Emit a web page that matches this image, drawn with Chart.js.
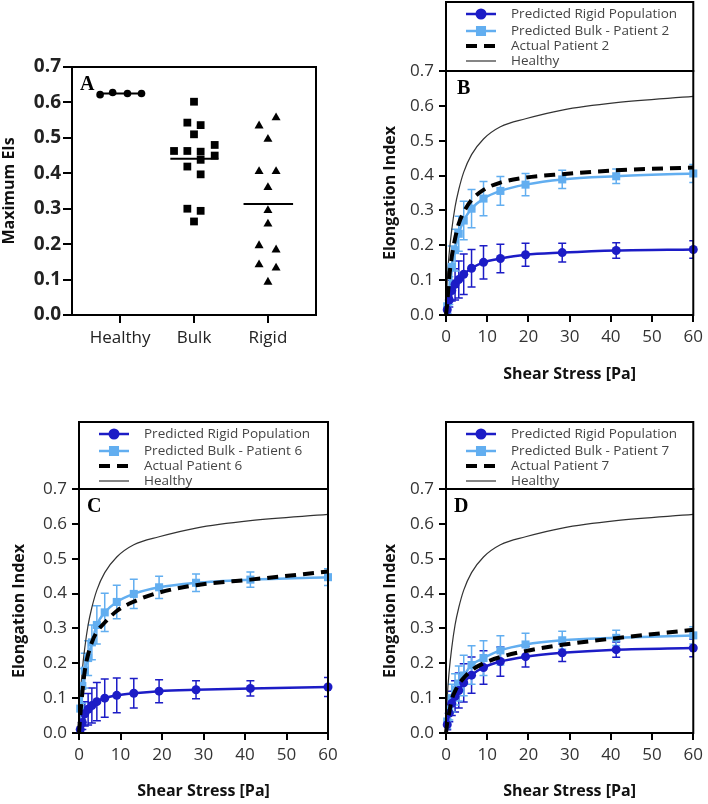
<!DOCTYPE html>
<html>
<head>
<meta charset="utf-8">
<title>Elongation index</title>
<script src="https://cdn.jsdelivr.net/npm/chart.js@4.4.1/dist/chart.umd.min.js"></script>
<style>
  html, body { margin: 0; padding: 0; background: #fff; }
  #wrap { position: relative; width: 708px; height: 804px; }
  canvas { position: absolute; }
</style>
</head>
<body>
<div id="wrap">
  <canvas id="chartA" width="354" height="402" style="left:0;top:0"></canvas>
  <canvas id="chartB" width="354" height="402" style="left:354px;top:0"></canvas>
  <canvas id="chartC" width="354" height="404" style="left:0;top:400px"></canvas>
  <canvas id="chartD" width="354" height="404" style="left:354px;top:400px"></canvas>
</div>
<script>
// ---- panel A: maximum EIs per group ----
const categories = ['Healthy', 'Bulk', 'Rigid'];
const healthyDotX = [0.73, 0.90, 1.10, 1.29];
const healthyDotY = [0.622, 0.628, 0.625, 0.625];
const bulkDotX = [2.0, 1.91, 2.09, 2.0, 1.73, 1.91, 2.09, 2.28, 2.28, 2.09, 1.91, 2.09, 1.91, 2.09, 2.0];
const bulkDotY = [0.602, 0.543, 0.536, 0.51, 0.463, 0.463, 0.461, 0.48, 0.45, 0.438, 0.419, 0.397, 0.30, 0.294, 0.264];
const rigidDotX = [2.88, 3.11, 3.0, 2.88, 3.11, 3.0, 3.0, 3.0, 2.88, 3.11, 2.88, 3.11, 3.0];
const rigidDotY = [0.534, 0.557, 0.496, 0.405, 0.405, 0.36, 0.295, 0.257, 0.196, 0.184, 0.142, 0.133, 0.093];
const healthyMean = 0.625, bulkMedian = 0.441, rigidMedian = 0.313;
const healthySpan = [0.69, 1.31], bulkSpan = [1.68, 2.33], rigidSpan = [2.67, 3.34];

// ---- panels B-D: EI vs shear stress ----
const shear = [0.3, 0.8, 1.4, 2.2, 3.1, 4.3, 6.2, 9.1, 13.2, 19.3, 28.2, 41.3, 60];
const shearCurve = [0, 0.3, 0.8, 1.4, 2.2, 3.1, 4.3, 6.2, 9.1, 13.2, 19.3, 28.2, 41.3, 60];
const healthyEI = [0, 0.1, 0.18, 0.245, 0.31, 0.36, 0.41, 0.46, 0.505, 0.54, 0.563, 0.588, 0.609, 0.627];

// patient 2
const rigidB = [0.015, 0.043, 0.07, 0.088, 0.102, 0.117, 0.134, 0.151, 0.162, 0.173, 0.179, 0.185, 0.188];
const rigidErrB = [0.01, 0.02, 0.03, 0.045, 0.053, 0.058, 0.054, 0.048, 0.041, 0.033, 0.027, 0.022, 0.025];
const bulkB = [0.025, 0.07, 0.138, 0.186, 0.233, 0.271, 0.305, 0.334, 0.356, 0.374, 0.389, 0.398, 0.406];
const bulkErrB = [0.02, 0.04, 0.06, 0.06, 0.05, 0.055, 0.055, 0.049, 0.041, 0.032, 0.026, 0.021, 0.026];
const actualB = [0, 0.035, 0.11, 0.167, 0.219, 0.262, 0.295, 0.33, 0.359, 0.38, 0.394, 0.404, 0.415, 0.423];

// patient 6
const rigidC = [0.01, 0.03, 0.055, 0.068, 0.079, 0.09, 0.1, 0.108, 0.114, 0.12, 0.124, 0.128, 0.132];
const rigidErrC = [0.01, 0.02, 0.035, 0.045, 0.05, 0.055, 0.055, 0.05, 0.042, 0.033, 0.026, 0.022, 0.027];
const bulkC = [0.07, 0.135, 0.179, 0.215, 0.26, 0.31, 0.346, 0.376, 0.399, 0.418, 0.431, 0.44, 0.447];
const bulkErrC = [0.04, 0.05, 0.05, 0.05, 0.05, 0.055, 0.055, 0.048, 0.042, 0.032, 0.025, 0.022, 0.024];
const actualC = [0, 0.05, 0.115, 0.179, 0.225, 0.26, 0.29, 0.317, 0.35, 0.377, 0.403, 0.424, 0.44, 0.463];

// patient 7
const rigidD = [0.024, 0.057, 0.085, 0.105, 0.122, 0.144, 0.166, 0.188, 0.205, 0.219, 0.23, 0.239, 0.244];
const rigidErrD = [0.015, 0.025, 0.035, 0.045, 0.05, 0.055, 0.052, 0.048, 0.042, 0.03, 0.025, 0.022, 0.025];
const bulkD = [0.033, 0.067, 0.1, 0.125, 0.142, 0.165, 0.195, 0.215, 0.237, 0.254, 0.266, 0.273, 0.28];
const bulkErrD = [0.02, 0.03, 0.04, 0.045, 0.05, 0.058, 0.055, 0.05, 0.042, 0.032, 0.026, 0.022, 0.025];
const actualD = [0, 0.03, 0.06, 0.096, 0.12, 0.14, 0.158, 0.18, 0.2, 0.218, 0.235, 0.253, 0.272, 0.296];

const DARK_BLUE = '#1c1cc6';
const LIGHT_BLUE = '#62aef0';

const pts = (xs, ys) => xs.map((x, i) => ({ x, y: ys[i] }));
const hline = (span, y) => [{ x: span[0], y }, { x: span[1], y }];

// error bars, drawn under the lines
const errorBars = {
  id: 'errorBars',
  beforeDatasetsDraw(chart) {
    const { ctx, chartArea: a, scales: { x, y } } = chart;
    ctx.save();
    ctx.beginPath();
    ctx.rect(a.left, a.top - 5, a.right - a.left, a.bottom - a.top + 5);
    ctx.clip();
    chart.data.datasets.forEach(ds => {
      if (!ds.errors) return;
      ctx.strokeStyle = ds.borderColor;
      ctx.lineWidth = 1.5;
      ds.data.forEach((p, j) => {
        const e = ds.errors[j];
        const px = x.getPixelForValue(p.x);
        const top = y.getPixelForValue(p.y + e);
        const bot = y.getPixelForValue(p.y - e);
        ctx.beginPath();
        ctx.moveTo(px, top); ctx.lineTo(px, bot);
        ctx.moveTo(px - 4, top); ctx.lineTo(px + 4, top);
        ctx.moveTo(px - 4, bot); ctx.lineTo(px + 4, bot);
        ctx.stroke();
      });
    });
    ctx.restore();
  }
};

// box round the plot, boxed legend above it, panel letter
const frame = {
  id: 'frame',
  afterDraw(chart, args, opts) {
    const { ctx, chartArea: a } = chart;
    ctx.save();
    ctx.strokeStyle = '#000';
    ctx.lineWidth = 2;
    ctx.strokeRect(a.left, a.top, a.right - a.left, a.bottom - a.top);

    if (opts.legendTop != null) {
      ctx.strokeRect(a.left, opts.legendTop, a.right - a.left, a.top - opts.legendTop);
      const items = chart.data.datasets.filter(d => d.legendRow != null)
        .sort((p, q) => p.legendRow - q.legendRow);
      items.forEach((ds, r) => {
        const yy = opts.legendTop + opts.rows[r];
        const x0 = a.left + 20, x1 = a.left + 50;
        ctx.save();
        ctx.strokeStyle = ds.borderColor;
        ctx.lineWidth = ds.legendWidth || ds.borderWidth;
        ctx.setLineDash(ds.borderDash || []);
        ctx.beginPath();
        ctx.moveTo(x0, yy); ctx.lineTo(x1, yy);
        ctx.stroke();
        ctx.restore();
        if (ds.pointRadius > 0) {
          ctx.fillStyle = ds.backgroundColor;
          ctx.strokeStyle = ds.borderColor;
          Chart.helpers.drawPoint(ctx, { pointStyle: ds.pointStyle, radius: ds.pointRadius, borderWidth: 1, rotation: 0 }, (x0 + x1) / 2, yy);
        }
        ctx.fillStyle = '#444';
        ctx.font = '13.5px "Open Sans"';
        ctx.textBaseline = 'middle';
        ctx.textAlign = 'left';
        ctx.fillText(ds.label, a.left + 65, yy);
      });
    }

    ctx.fillStyle = '#000';
    ctx.font = 'bold 20px "Liberation Serif"';
    ctx.textBaseline = 'middle';
    ctx.textAlign = 'left';
    ctx.fillText(opts.letter, a.left + opts.letterDx, a.top + 18);
    ctx.restore();
  }
};

const tickFont = { family: 'Open Sans', size: 17 };
const titleFont = { family: 'Open Sans', size: 16, weight: 'bold' };
const axisGrid = { drawOnChartArea: false, tickLength: 7, color: '#000', lineWidth: 2 };
const axisBorder = { color: '#000', width: 2 };

function curvePanel(id, L, patient, rigid, rigidErr, bulk, bulkErr, actual) {
  const datasets = [
    {
      label: 'Actual Patient ' + patient, legendRow: 2,
      data: pts(shearCurve, actual), showLine: true,
      borderColor: '#000', backgroundColor: '#000', borderWidth: 4, borderDash: [11, 7],
      legendWidth: 4, pointRadius: 0, cubicInterpolationMode: 'monotone'
    },
    {
      label: 'Predicted Rigid Population', legendRow: 0,
      data: pts(shear, rigid), errors: rigidErr, showLine: true,
      borderColor: DARK_BLUE, backgroundColor: DARK_BLUE, borderWidth: 2.5,
      pointStyle: 'circle', pointRadius: 4.5, cubicInterpolationMode: 'monotone'
    },
    {
      label: 'Predicted Bulk - Patient ' + patient, legendRow: 1,
      data: pts(shear, bulk), errors: bulkErr, showLine: true,
      borderColor: LIGHT_BLUE, backgroundColor: LIGHT_BLUE, borderWidth: 2.5,
      pointStyle: 'rect', pointRadius: 5.7, cubicInterpolationMode: 'monotone'
    },
    {
      label: 'Healthy', legendRow: 3,
      data: pts(shearCurve, healthyEI), showLine: true,
      borderColor: '#333', backgroundColor: '#333', borderWidth: 1.2,
      pointRadius: 0, cubicInterpolationMode: 'monotone'
    }
  ];
  datasets.forEach(d => { d.clip = false; d.pointBorderWidth = 0; });

  new Chart(document.getElementById(id), {
    type: 'scatter',
    data: { datasets },
    options: {
      responsive: false,
      animation: false,
      layout: { padding: { left: 0, right: L.right, top: L.top, bottom: 0 } },
      plugins: {
        legend: { display: false },
        tooltip: { enabled: false },
        frame: { legendTop: L.legendTop, rows: [12, 29, 44, 59], letter: L.letter, letterDx: L.letterDx }
      },
      scales: {
        x: {
          type: 'linear', min: 0, max: 60,
          afterFit: s => { s.height = L.xHeight; },
          ticks: { stepSize: 10, font: tickFont, color: '#333', padding: 5, maxRotation: 0 },
          grid: axisGrid, border: axisBorder,
          title: { display: true, text: 'Shear Stress [Pa]', font: titleFont, color: '#111', padding: { bottom: L.xTitlePad } }
        },
        y: {
          min: 0, max: 0.7,
          afterFit: s => { s.width = L.yWidth; },
          ticks: { stepSize: 0.1, font: tickFont, color: '#333', padding: 5, callback: v => v.toFixed(1) },
          grid: axisGrid, border: axisBorder,
          title: { display: true, text: 'Elongation Index', font: titleFont, color: '#111', padding: { top: L.yTitlePad } }
        }
      }
    },
    plugins: [errorBars, frame]
  });
}

// panel A
const blackSet = { borderColor: '#000', backgroundColor: '#000', pointBorderWidth: 0 };
new Chart(document.getElementById('chartA'), {
  type: 'scatter',
  data: {
    datasets: [
      { ...blackSet, data: pts(healthyDotX, healthyDotY), pointStyle: 'circle', pointRadius: 3.8 },
      { ...blackSet, data: hline(healthySpan, healthyMean), showLine: true, borderWidth: 2, pointRadius: 0 },
      { ...blackSet, data: pts(bulkDotX, bulkDotY), pointStyle: 'rect', pointRadius: 5.5 },
      { ...blackSet, data: hline(bulkSpan, bulkMedian), showLine: true, borderWidth: 2, pointRadius: 0 },
      { ...blackSet, data: pts(rigidDotX, rigidDotY), pointStyle: 'triangle', pointRadius: 5.2 },
      { ...blackSet, data: hline(rigidSpan, rigidMedian), showLine: true, borderWidth: 2, pointRadius: 0 }
    ]
  },
  options: {
    responsive: false,
    animation: false,
    layout: { padding: { left: 0, right: 38, top: 67, bottom: 0 } },
    plugins: {
      legend: { display: false },
      tooltip: { enabled: false },
      frame: { legendTop: null, letter: 'A', letterDx: 8 }
    },
    scales: {
      x: {
        type: 'linear', min: 0.35, max: 3.65,
        afterFit: s => { s.height = 87; },
        afterBuildTicks: s => { s.ticks = categories.map((c, i) => ({ value: i + 1 })); },
        ticks: { font: { family: 'Open Sans', size: 17 }, color: '#222', padding: 5, callback: v => categories[v - 1] },
        grid: { ...axisGrid, tickLength: 8 }, border: axisBorder
      },
      y: {
        min: 0, max: 0.7,
        afterFit: s => { s.width = 72; },
        ticks: { stepSize: 0.1, font: { family: 'Open Sans', size: 19, weight: 'bold' }, color: '#222', padding: 2, callback: v => v.toFixed(1) },
        grid: { ...axisGrid, tickLength: 9 }, border: axisBorder,
        title: { display: true, text: 'Maximum EIs', font: titleFont, color: '#111', padding: { top: 0 } }
      }
    }
  },
  plugins: [frame]
});

curvePanel('chartB', { right: 14, top: 71, yWidth: 92, xHeight: 87, xTitlePad: 18, yTitlePad: 27, legendTop: 2, letter: 'B', letterDx: 11 },
  2, rigidB, rigidErrB, bulkB, bulkErrB, actualB);
curvePanel('chartC', { right: 26, top: 89, yWidth: 79, xHeight: 71, xTitlePad: 3, yTitlePad: 10, legendTop: 22, letter: 'C', letterDx: 8 },
  6, rigidC, rigidErrC, bulkC, bulkErrC, actualC);
curvePanel('chartD', { right: 13, top: 89, yWidth: 92, xHeight: 71, xTitlePad: 3, yTitlePad: 27, legendTop: 22, letter: 'D', letterDx: 8 },
  7, rigidD, rigidErrD, bulkD, bulkErrD, actualD);
</script>
</body>
</html>
